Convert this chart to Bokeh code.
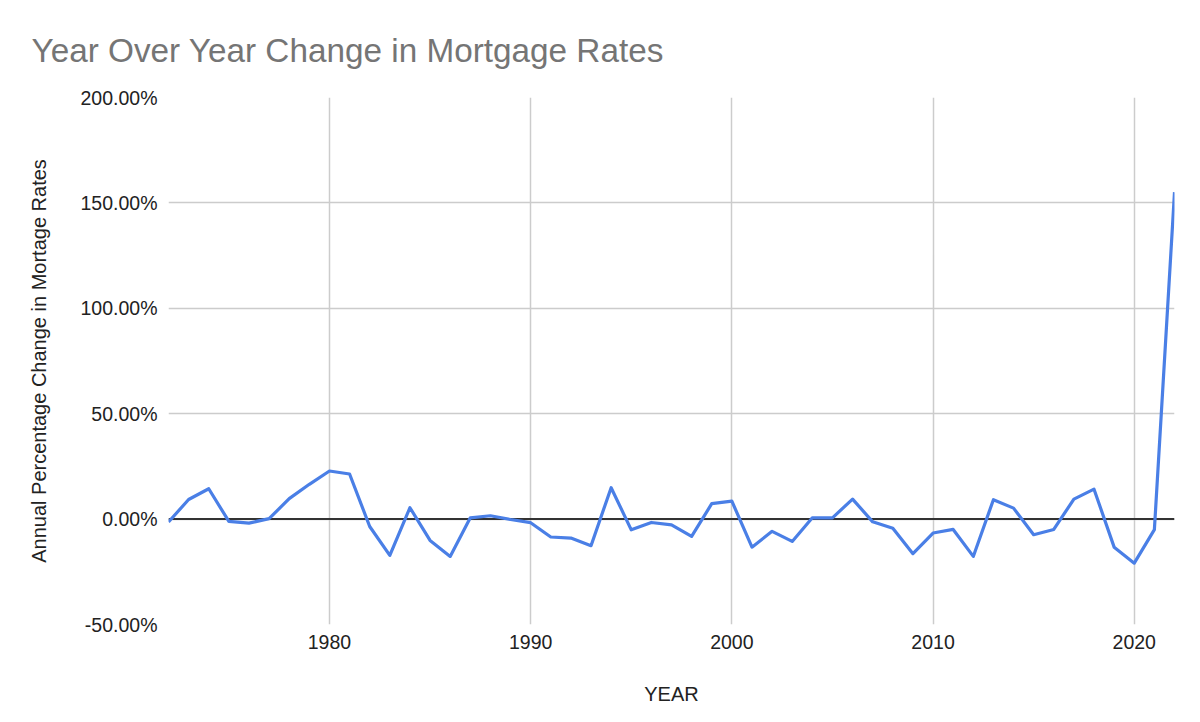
from bokeh.plotting import figure
from bokeh.models import Range1d, FixedTicker, PrintfTickFormatter, Span
from bokeh.embed import file_html
from bokeh.resources import INLINE

years = list(range(1972, 2023))
yoy_change_pct = [
    -1.4, 9.3, 14.4, -1.1, -1.9, 0.2, 9.7, 16.5, 22.8, 21.4,
    -3.5, -17.2, 5.4, -10.1, -17.7, 0.6, 1.6, -0.2, -1.7, -8.5,
    -9.0, -12.6, 14.9, -5.1, -1.6, -2.7, -8.2, 7.3, 8.5, -13.3,
    -5.8, -10.6, 0.6, 0.6, 9.5, -1.3, -4.3, -16.4, -6.6, -4.9,
    -17.7, 9.2, 5.2, -7.4, -4.9, 9.5, 14.2, -13.3, -20.9, -5.0,
    155.1,
]
x_ticks = [1980, 1990, 2000, 2010, 2020]
y_ticks = [-50, 0, 50, 100, 150, 200]
title_text = "Year Over Year Change in Mortgage Rates"

FONT = "Liberation Sans"

p = figure(
    width=1200, height=722,
    output_backend="svg", toolbar_location=None,
    x_range=Range1d(1972, 2022), y_range=Range1d(-50, 200),
    min_border_left=168, min_border_right=26,
    min_border_top=96, min_border_bottom=98,
    title=title_text,
)
p.outline_line_color = None
p.background_fill_color = "white"
p.border_fill_color = "white"

p.title.text_font = FONT
p.title.text_font_size = "33.3px"
p.title.text_font_style = "normal"
p.title.text_color = "#757575"
p.title.align = "left"
p.title.offset = -137
p.title.standoff = 58

p.xaxis.ticker = FixedTicker(ticks=x_ticks)
p.yaxis.ticker = FixedTicker(ticks=y_ticks)
p.yaxis.formatter = PrintfTickFormatter(format="%.2f%%")

for ax in (p.xaxis, p.yaxis):
    ax.axis_line_color = None
    ax.major_tick_line_color = None
    ax.minor_tick_line_color = None
    ax.major_tick_out = 0
    ax.major_label_text_font = FONT
    ax.major_label_text_font_size = "19.5px"
    ax.major_label_text_color = "#222222"
    ax.axis_label_text_font = FONT
    ax.axis_label_text_font_size = "20px"
    ax.axis_label_text_font_style = "normal"
    ax.axis_label_text_color = "#222222"

p.xaxis.axis_label = "YEAR"
p.yaxis.axis_label = "Annual Percentage Change in Mortage Rates"
p.xaxis.major_label_standoff = 10
p.yaxis.major_label_standoff = 11
p.xaxis.axis_label_standoff = 31
p.yaxis.axis_label_standoff = 28

p.xgrid.grid_line_color = "#cccccc"
p.ygrid.grid_line_color = "#cccccc"
p.xgrid.grid_line_width = 1.5
p.ygrid.grid_line_width = 1.5

zero = Span(location=0, dimension="width", line_color="#333333",
            line_width=2, level="underlay")
p.add_layout(zero)

p.line(years, yoy_change_pct, line_color="#4a7fe6", line_width=3.2,
       line_join="round")

open("out.html", "w").write(file_html(p, INLINE))
